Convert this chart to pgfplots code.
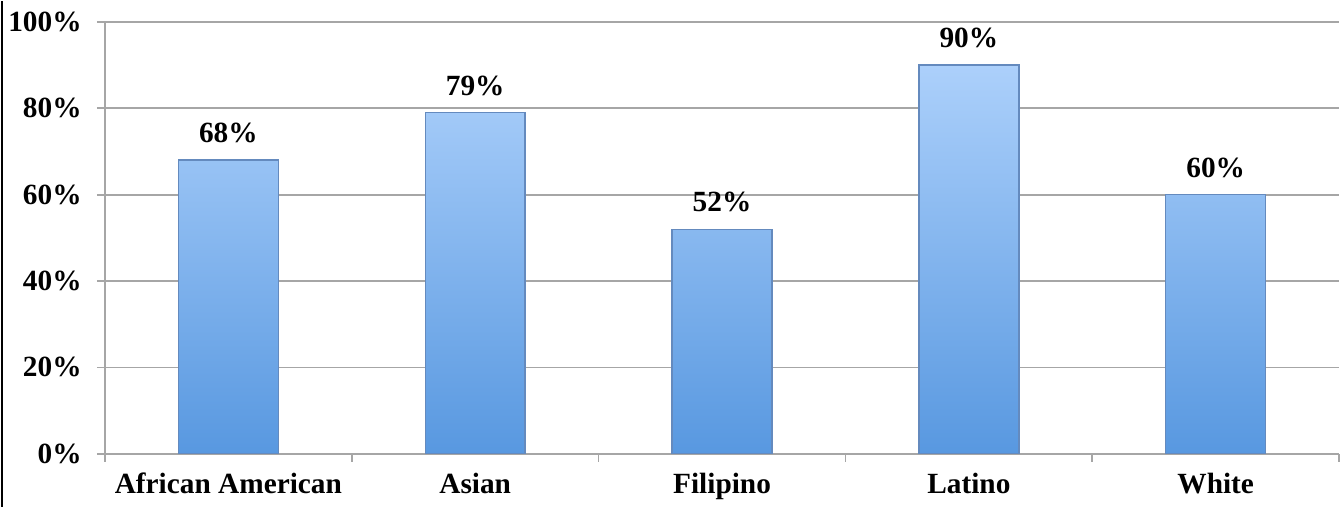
\documentclass[border=0pt]{standalone}
\usepackage{pgfplots}
\pgfplotsset{compat=1.18}
\usepackage{fontspec}
\setmainfont{Liberation Serif}
\definecolor{gridgray}{RGB}{166,166,166}
\definecolor{bartop}{RGB}{172,208,251}
\definecolor{barbot}{RGB}{88,152,224}
\definecolor{baredge}{RGB}{100,138,190}
\begin{document}
\begin{tikzpicture}
\pgfplotstableread{
x y
0 68
1 79
2 52
3 90
4 60
}\datatable
\begin{axis}[
  at={(0,0)}, anchor=south west,
  scale only axis,
  width=926.25pt, height=324pt,
  xmin=-0.5, xmax=4.5,
  ymin=0, ymax=100,
  axis x line=bottom, axis y line=left,
  axis line style={-, gridgray, line width=1.3pt},
  xtick={-0.5,0.5,1.5,2.5,3.5,4.5},
  x tick label as interval=true,
  xticklabels={African American,Asian,Filipino,Latino,White},
  ytick={0,20,40,60,80,100},
  yticklabels={0\%,20\%,40\%,60\%,80\%,100\%},
  tick align=outside,
  major tick length=6pt,
  tick style={gridgray, line width=1.3pt},
  ymajorgrids=true,
  grid style={gridgray, line width=1.3pt},
  tick label style={font=\fontsize{22}{26}\selectfont\bfseries, text=black},
  yticklabel style={xshift=-8pt},
  xticklabel style={yshift=-5pt},
  clip=false,
]
\addplot[ybar, bar width=75pt, draw=baredge, line width=1pt,
  top color=bartop, bottom color=barbot,
  nodes near coords={\pgfmathprintnumber[assume math mode=true]{\pgfplotspointmeta}\%},
  point meta=y,
  every node near coord/.append style={font=\fontsize{22}{26}\selectfont\bfseries, text=black, anchor=south, yshift=9pt},
] table[x=x,y=y] {\datatable};
\end{axis}
\draw[black, line width=1.5pt] (-76.9pt,-39.75pt) -- (-76.9pt,339.75pt);
\useasboundingbox (-78.75pt,-39.75pt) rectangle (926.25pt,339.75pt);
\end{tikzpicture}
\end{document}
